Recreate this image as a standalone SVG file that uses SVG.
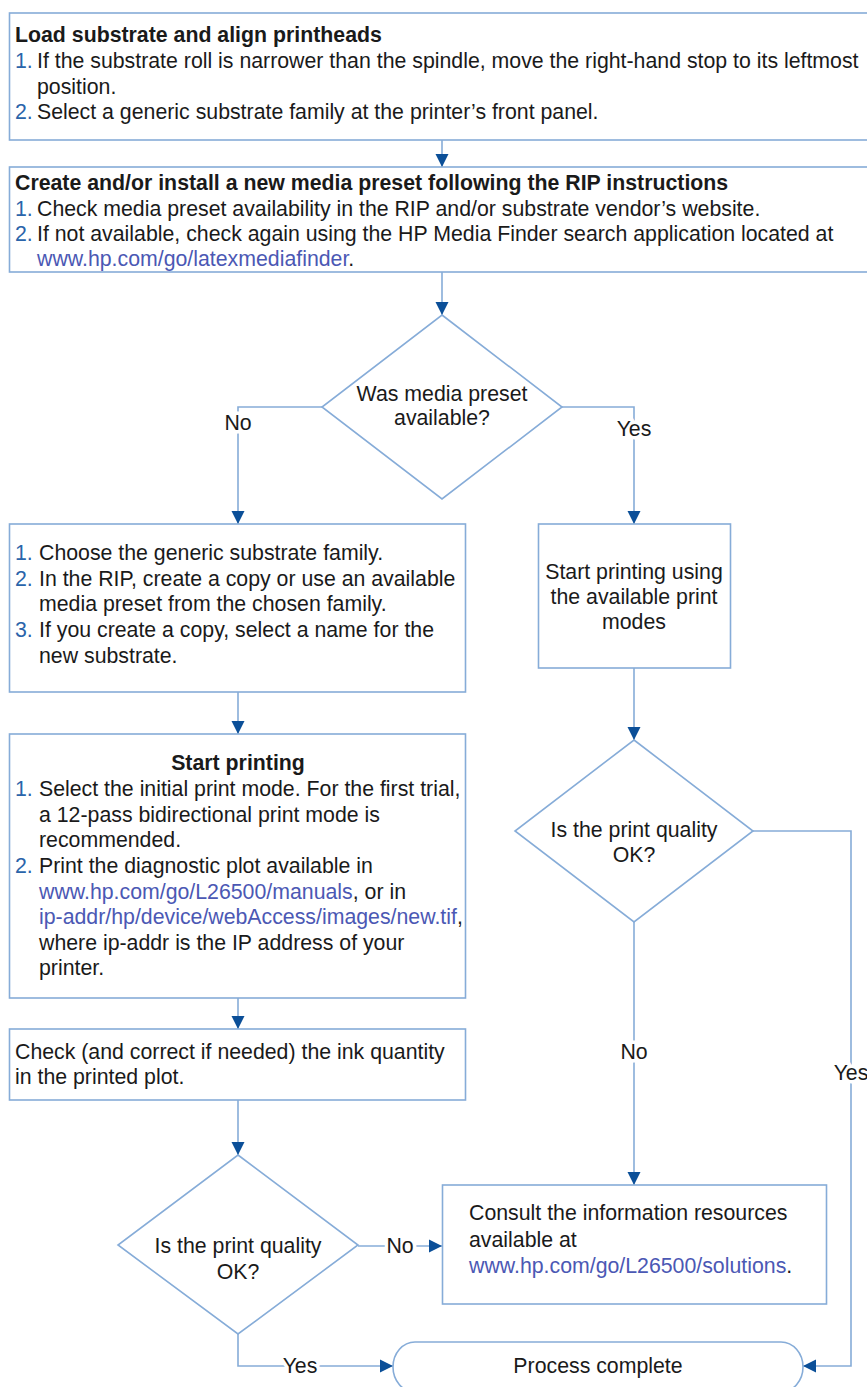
<svg xmlns="http://www.w3.org/2000/svg" width="867" height="1387" viewBox="0 0 867 1387">
<defs>
<style>
.box{fill:#fff;stroke:#86acd8;stroke-width:1.6}
.ln{fill:none;stroke:#86acd8;stroke-width:1.6}
text{font-family:"Liberation Sans",Arial,sans-serif;font-size:21.3px;fill:#1a1a1a}
.b{font-weight:bold}
.n{fill:#2a64aa}
.lk{fill:#4b58b4}
.c{text-anchor:middle}
.lab{paint-order:stroke;stroke:#fff;stroke-width:7px;stroke-linejoin:round}
</style>
<marker id="ah" markerUnits="userSpaceOnUse" markerWidth="14" markerHeight="14" refX="13" refY="7" orient="auto" viewBox="0 0 14 14">
<path d="M0,0.5 L13,7 L0,13.5 z" fill="#0b4f98"/>
</marker>
</defs>
<rect width="867" height="1387" fill="#fff"/>

<g id="connectors">
<path class="ln" d="M442,140 V167" marker-end="url(#ah)"/>
<path class="ln" d="M442,272 V315" marker-end="url(#ah)"/>
<path class="ln" d="M323,407 H238 V524" marker-end="url(#ah)"/>
<path class="ln" d="M562,407 H634 V524" marker-end="url(#ah)"/>
<path class="ln" d="M238,692 V734" marker-end="url(#ah)"/>
<path class="ln" d="M634,668 V740" marker-end="url(#ah)"/>
<path class="ln" d="M238,998 V1029" marker-end="url(#ah)"/>
<path class="ln" d="M238,1100 V1155" marker-end="url(#ah)"/>
<path class="ln" d="M634,922 V1185" marker-end="url(#ah)"/>
<path class="ln" d="M753,831 H851 V1366 H803" marker-end="url(#ah)"/>
<path class="ln" d="M358,1246 H442" marker-end="url(#ah)"/>
<path class="ln" d="M238,1334 V1366 H393" marker-end="url(#ah)"/>
<text class="c lab" x="238" y="430">No</text>
<text class="c lab" x="634" y="436">Yes</text>
<text class="c lab" x="634" y="1059">No</text>
<text class="c lab" x="851" y="1080">Yes</text>
<text class="c lab" x="400" y="1253">No</text>
<text class="c lab" x="300" y="1373">Yes</text>
</g>

<g id="load">
<rect class="box" x="9.5" y="13" width="880" height="127"/>
<text class="b" x="15" y="42">Load substrate and align printheads</text>
<text x="15" y="68"><tspan class="n">1.</tspan><tspan x="37">If the substrate roll is narrower than the spindle, move the right-hand stop to its leftmost</tspan></text>
<text x="37" y="94">position.</text>
<text x="15" y="119"><tspan class="n">2.</tspan><tspan x="37">Select a generic substrate family at the printer’s front panel.</tspan></text>
</g>

<g id="create">
<rect class="box" x="9.5" y="167" width="880" height="105"/>
<text class="b" x="15" y="190">Create and/or install a new media preset following the RIP instructions</text>
<text x="15" y="216"><tspan class="n">1.</tspan><tspan x="37">Check media preset availability in the RIP and/or substrate vendor’s website.</tspan></text>
<text x="15" y="241"><tspan class="n">2.</tspan><tspan x="37">If not available, check again using the HP Media Finder search application located at</tspan></text>
<text x="37" y="266"><tspan class="lk">www.hp.com/go/latexmediafinder</tspan>.</text>
</g>

<g id="decision-preset">
<path class="box" d="M442,315 L562,407 L442,499 L322,407 z"/>
<text class="c" x="442" y="401">Was media preset</text>
<text class="c" x="442" y="425">available?</text>
</g>

<g id="generic">
<rect class="box" x="9.5" y="524" width="456" height="168"/>
<text x="15" y="560"><tspan class="n">1.</tspan><tspan x="39">Choose the generic substrate family.</tspan></text>
<text x="15" y="586"><tspan class="n">2.</tspan><tspan x="39">In the RIP, create a copy or use an available</tspan></text>
<text x="39" y="611">media preset from the chosen family.</text>
<text x="15" y="637"><tspan class="n">3.</tspan><tspan x="39">If you create a copy, select a name for the</tspan></text>
<text x="39" y="663">new substrate.</text>
</g>

<g id="start-available">
<rect class="box" x="538.5" y="524" width="192" height="144"/>
<text class="c" x="634" y="579">Start printing using</text>
<text class="c" x="634" y="604">the available print</text>
<text class="c" x="634" y="629">modes</text>
</g>

<g id="start-printing">
<rect class="box" x="9.5" y="734" width="456" height="264"/>
<text class="b c" x="238" y="770">Start printing</text>
<text x="15" y="796"><tspan class="n">1.</tspan><tspan x="39">Select the initial print mode. For the first trial,</tspan></text>
<text x="39" y="822">a 12-pass bidirectional print mode is</text>
<text x="39" y="847">recommended.</text>
<text x="15" y="873"><tspan class="n">2.</tspan><tspan x="39">Print the diagnostic plot available in</tspan></text>
<text x="39" y="899"><tspan class="lk">www.hp.com/go/L26500/manuals</tspan>, or in</text>
<text x="39" y="924"><tspan class="lk">ip-addr/hp/device/webAccess/images/new.tif</tspan>,</text>
<text x="39" y="950">where ip-addr is the IP address of your</text>
<text x="39" y="975">printer.</text>
</g>

<g id="decision-right">
<path class="box" d="M634,740 L753,831 L634,922 L515,831 z"/>
<text class="c" x="634" y="837">Is the print quality</text>
<text class="c" x="634" y="862">OK?</text>
</g>

<g id="check-ink">
<rect class="box" x="9.5" y="1029" width="456" height="71"/>
<text x="15" y="1059">Check (and correct if needed) the ink quantity</text>
<text x="15" y="1084">in the printed plot.</text>
</g>

<g id="decision-left">
<path class="box" d="M238,1155 L358,1245 L238,1334 L118,1245 z"/>
<text class="c" x="238" y="1253">Is the print quality</text>
<text class="c" x="238" y="1279">OK?</text>
</g>

<g id="consult">
<rect class="box" x="442.5" y="1185" width="384" height="119"/>
<text x="469" y="1220">Consult the information resources</text>
<text x="469" y="1247">available at</text>
<text x="469" y="1273"><tspan class="lk">www.hp.com/go/L26500/solutions</tspan>.</text>
</g>

<g id="complete">
<rect class="box" x="393" y="1342" width="410" height="50" rx="22" ry="25"/>
<text class="c" x="598" y="1373">Process complete</text>
</g>
</svg>
